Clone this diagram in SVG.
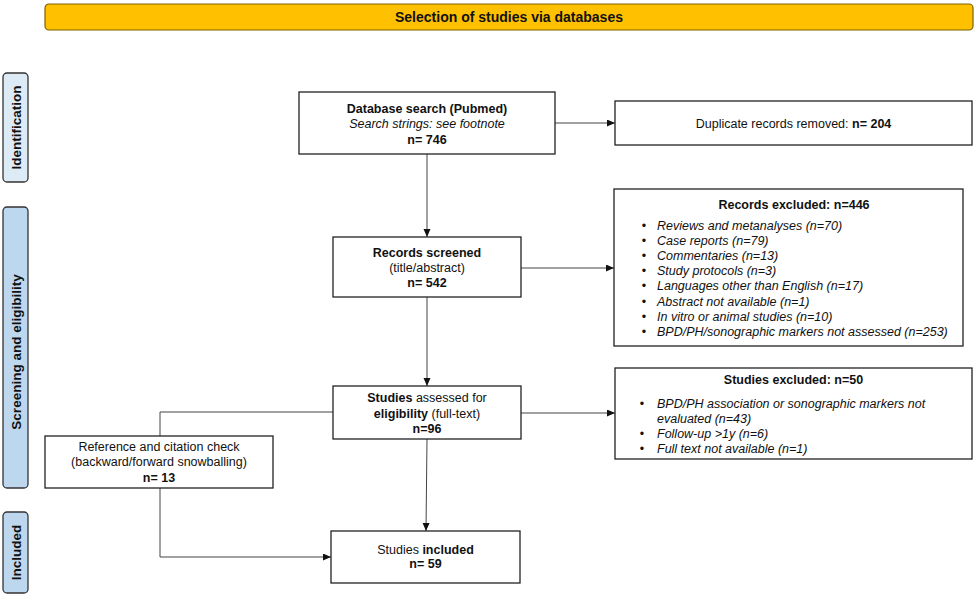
<svg xmlns="http://www.w3.org/2000/svg" width="975" height="596" viewBox="0 0 975 596">
<style>
text{font-family:"Liberation Sans",Arial,sans-serif;font-size:12.5px;fill:#111}
.b{font-weight:bold}
.i{font-style:italic}
.c{text-anchor:middle}
.box{fill:#fff;stroke:#222;stroke-width:1.3}
.side{stroke:#333;stroke-width:1.3}
.sidet{font-weight:bold;font-size:13.5px;text-anchor:middle}
.con{fill:none;stroke:#444;stroke-width:1}
</style>
<defs>
<marker id="ah" markerUnits="userSpaceOnUse" markerWidth="9" markerHeight="8" refX="8" refY="3.5" orient="auto">
<path d="M0,0 L8,3.5 L0,7 z" fill="#111"/>
</marker>
</defs>
<rect width="975" height="596" fill="#fff"/>
<g id="title">
<rect x="45" y="4" width="928" height="26" rx="4" fill="#FFC000" stroke="#7F6000" stroke-width="1.2"/>
<text x="509" y="21.5" class="b c" style="font-size:14px">Selection of studies via databases</text>
</g>
<g id="phase-identification">
<rect x="3" y="73" width="25" height="109" rx="4" class="side" fill="#DDEBF7"/>
<text transform="translate(20.5,127.5) rotate(-90)" class="sidet">Identification</text>
</g>
<g id="phase-screening">
<rect x="3" y="207" width="25" height="281" rx="4" class="side" fill="#BDD7EE"/>
<text transform="translate(20.5,352) rotate(-90)" class="sidet">Screening and eligibility</text>
</g>
<g id="phase-included">
<rect x="3" y="512" width="25" height="81" rx="4" class="side" fill="#BDD7EE"/>
<text transform="translate(20.5,552.5) rotate(-90)" class="sidet">Included</text>
</g>
<g id="connectors">
<line x1="555" y1="123" x2="615" y2="123" class="con" marker-end="url(#ah)"/>
<line x1="427" y1="154" x2="427" y2="237" class="con" marker-end="url(#ah)"/>
<line x1="521" y1="268" x2="614" y2="268" class="con" marker-end="url(#ah)"/>
<line x1="427" y1="297" x2="427" y2="386" class="con" marker-end="url(#ah)"/>
<line x1="521" y1="413" x2="615" y2="413" class="con" marker-end="url(#ah)"/>
<line x1="427" y1="439" x2="426" y2="531" class="con" marker-end="url(#ah)"/>
<polyline points="333,412 160,412 160,436" class="con"/>
<polyline points="160,488 160,557 331,557" class="con" marker-end="url(#ah)"/>
</g>
<g id="database-search">
<rect x="299" y="92" width="256" height="62" class="box"/>
<text x="427" y="112.5" class="b c">Database search (Pubmed)</text>
<text x="427" y="127.5" class="i c">Search strings: see footnote</text>
<text x="427" y="143.5" class="b c">n= 746</text>
</g>
<g id="duplicates">
<rect x="615" y="101" width="357" height="44" class="box"/>
<text x="793.5" y="127.5" class="c">Duplicate records removed: <tspan class="b">n= 204</tspan></text>
</g>
<g id="records-screened">
<rect x="333" y="237" width="188" height="60" class="box"/>
<text x="427" y="256.5" class="b c">Records screened</text>
<text x="427" y="271.5" class="c">(title/abstract)</text>
<text x="427" y="286.5" class="b c">n= 542</text>
</g>
<g id="records-excluded">
<rect x="614" y="189" width="349" height="157" class="box"/>
<text x="794" y="208.5" class="b c">Records excluded: n=446</text>
<text x="644" y="230" class="c">•</text><text x="657" y="230" class="i">Reviews and metanalyses (n=70)</text>
<text x="644" y="245.1" class="c">•</text><text x="657" y="245.1" class="i">Case reports (n=79)</text>
<text x="644" y="260.2" class="c">•</text><text x="657" y="260.2" class="i">Commentaries (n=13)</text>
<text x="644" y="275.3" class="c">•</text><text x="657" y="275.3" class="i">Study protocols (n=3)</text>
<text x="644" y="290.4" class="c">•</text><text x="657" y="290.4" class="i">Languages other than English (n=17)</text>
<text x="644" y="305.5" class="c">•</text><text x="657" y="305.5" class="i">Abstract not available (n=1)</text>
<text x="644" y="320.6" class="c">•</text><text x="657" y="320.6" class="i">In vitro or animal studies (n=10)</text>
<text x="644" y="335.7" class="c">•</text><text x="657" y="335.7" class="i">BPD/PH/sonographic markers not assessed (n=253)</text>
</g>
<g id="studies-assessed">
<rect x="333" y="386" width="188" height="53" class="box"/>
<text x="427" y="401.5" class="c"><tspan class="b">Studies</tspan> assessed for</text>
<text x="427" y="417.5" class="c"><tspan class="b">eligibility</tspan> (full-text)</text>
<text x="427" y="432.5" class="b c">n=96</text>
</g>
<g id="studies-excluded">
<rect x="615" y="368" width="357" height="91" class="box"/>
<text x="793.5" y="383.5" class="b c">Studies excluded: n=50</text>
<text x="642" y="407.5" class="c">•</text><text x="657" y="407.5" class="i">BPD/PH association or sonographic markers not</text>
<text x="657" y="422.5" class="i">evaluated (n=43)</text>
<text x="642" y="437.5" class="c">•</text><text x="657" y="437.5" class="i">Follow-up &gt;1y (n=6)</text>
<text x="642" y="452.5" class="c">•</text><text x="657" y="452.5" class="i">Full text not available (n=1)</text>
</g>
<g id="reference-check">
<rect x="45" y="436" width="228" height="52" class="box"/>
<text x="159" y="450.5" class="c">Reference and citation check</text>
<text x="159" y="465.5" class="c">(backward/forward snowballing)</text>
<text x="159" y="481.5" class="b c">n= 13</text>
</g>
<g id="studies-included">
<rect x="331" y="531" width="189" height="52" class="box"/>
<text x="425.5" y="553.5" class="c">Studies <tspan class="b">included</tspan></text>
<text x="425.5" y="567.5" class="b c">n= 59</text>
</g>
</svg>
